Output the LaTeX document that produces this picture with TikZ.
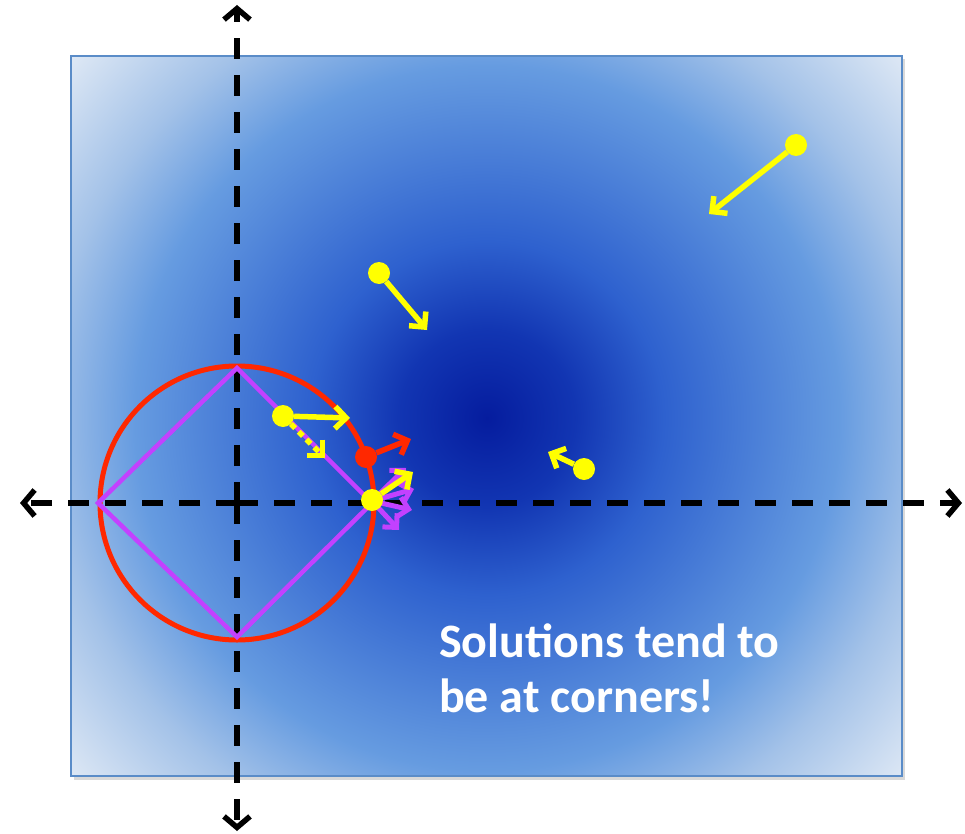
\documentclass[tikz,border=0pt]{standalone}
\usepackage{fontspec}
\newfontfamily\carlito{Carlito}
\usetikzlibrary{arrows.meta,shadows}
\definecolor{ylw}{RGB}{255,255,0}
\definecolor{rd}{RGB}{255,40,0}
\definecolor{prp}{RGB}{195,65,255}
\definecolor{frame}{RGB}{90,140,200}
\pgfdeclareradialshading{bgshade}{\pgfpoint{0bp}{0bp}}{%
  rgb(0bp)=(0.02,0.11,0.62);
  rgb(4bp)=(0.07,0.21,0.70);
  rgb(8bp)=(0.18,0.38,0.81);
  rgb(16bp)=(0.40,0.61,0.88);
  rgb(20bp)=(0.64,0.76,0.91);
  rgb(25bp)=(0.87,0.91,0.96);
  rgb(50bp)=(0.87,0.91,0.96)}
\tikzset{
  axis/.style={line width=6pt, black, dash pattern=on 21pt off 16pt,
    -{Straight Barb[length=11pt,width=26pt,line width=5.5pt]}},
  yarrow/.style={line width=5.5pt, ylw, -{Straight Barb[length=11pt,width=22pt,line width=5.5pt]}},
  rarrow/.style={line width=5.5pt, rd, -{Straight Barb[length=11pt,width=22pt,line width=5.5pt]}},
  parrow/.style={line width=5pt, prp, -{Straight Barb[length=10pt,width=20pt,line width=5pt]}},
  ydot/.style={circle, fill=ylw, minimum size=22pt, inner sep=0pt},
  rdot/.style={circle, fill=rd, minimum size=22pt, inner sep=0pt},
  txt/.style={text=white, font=\carlito\bfseries\fontsize{48}{57}\selectfont, anchor=base west, inner sep=0pt}
}
\begin{document}
\begin{tikzpicture}[x=1pt,y=-1pt]
\useasboundingbox (0,0) rectangle (965,834);
% background panel
\fill[black, opacity=0.15] (74,59) rectangle (905,780);
\begin{scope}
  \clip (71,56) rectangle (902,776);
  \shade[shading=bgshade] (487,418) circle (551pt);
\end{scope}
\draw[frame, line width=1.5pt] (71,56) rectangle (902,776);
% axes
\coordinate (o) at (237,503);
\coordinate (xl) at (20,503);
\coordinate (xr) at (962,503);
\coordinate (yt) at (237,5);
\coordinate (yb) at (237,831);
\draw[axis] (o) -- (xl);
\draw[axis] (o) -- (xr);
\draw[axis] (o) -- (yt);
\draw[axis] (o) -- (yb);
% L2 ball and L1 ball
\draw[rd, line width=5pt] (o) circle (137pt);
\coordinate (dt) at (237,368);
\coordinate (dr) at (372,503);
\coordinate (db) at (237,637);
\coordinate (dl) at (98,503);
\draw[prp, line width=4.5pt, line join=miter] (dt) -- (dr) -- (db) -- (dl) -- cycle;
% gradient arrows
\coordinate (t1) at (709,214);
\coordinate (t2) at (427,330);
\coordinate (t3) at (548,452);
\coordinate (t4) at (350,418);
\coordinate (t4b) at (325,458);
\coordinate (t5) at (411,439);
\coordinate (t6) at (413,472);
\coordinate (q1) at (406,468);
\coordinate (q2) at (414,489);
\coordinate (q3) at (412,510);
\coordinate (q4) at (399,530);
\node[ydot] (p1) at (796,145) {};
\node[ydot] (p2) at (379,273) {};
\node[ydot] (p3) at (584,469) {};
\node[ydot] (p4) at (283,416) {};
\draw[yarrow] (p1) -- (t1);
\draw[yarrow] (p2) -- (t2);
\draw[yarrow] (p3) -- (t3);
\draw[yarrow] (p4) -- (t4);
\draw[yarrow, dash pattern=on 6pt off 5pt] (p4) -- (t4b);
\node[rdot] (p5) at (366,457) {};
\draw[rarrow] (p5) -- (t5);
\node (c) at (372,501) {};
\draw[parrow] (c.center) -- (q1);
\draw[parrow] (c.center) -- (q2);
\draw[parrow] (c.center) -- (q3);
\draw[parrow] (c.center) -- (q4);
\node[ydot] (p6) at (372,500) {};
\draw[yarrow] (p6) -- (t6);
% text
\node[txt] (l1) at (439,657) {Solutions tend to};
\node[txt] (l2) at (439,712) {be at corners!};
\end{tikzpicture}
\end{document}
